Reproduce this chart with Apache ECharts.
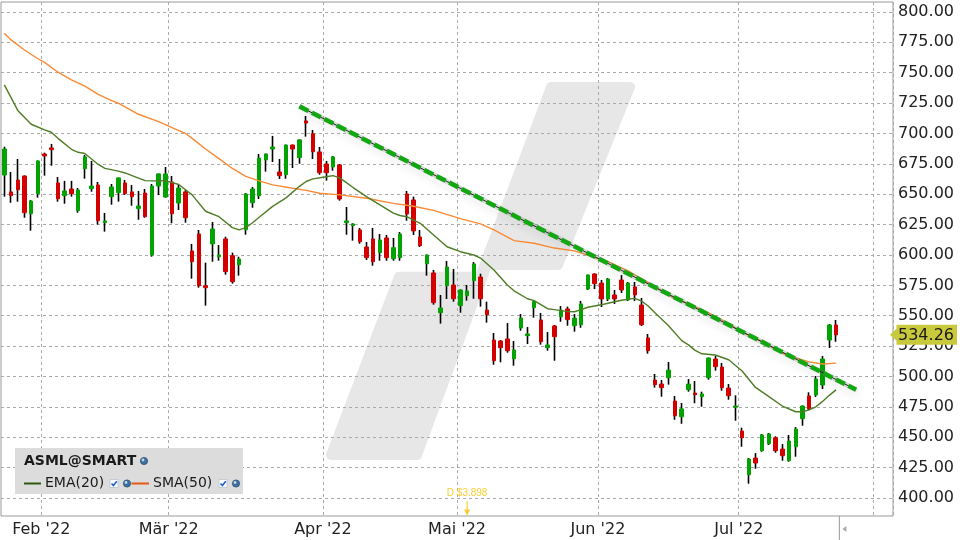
<!DOCTYPE html>
<html><head><meta charset="utf-8">
<script src="https://cdn.jsdelivr.net/npm/echarts@6/dist/echarts.min.js"></script>
<style>html,body{margin:0;padding:0;background:#fff}#c{width:960px;height:540px}</style>
</head><body><div id="c"></div>
<script>
// ---------- data ----------
const tradingDays = [
 '2022-01-24','2022-01-25','2022-01-26','2022-01-27','2022-01-28','2022-01-31',
 '2022-02-01','2022-02-02','2022-02-03','2022-02-04','2022-02-07','2022-02-08','2022-02-09','2022-02-10','2022-02-11','2022-02-14','2022-02-15','2022-02-16','2022-02-17','2022-02-18','2022-02-22','2022-02-23','2022-02-24','2022-02-25','2022-02-28',
 '2022-03-01','2022-03-02','2022-03-03','2022-03-04','2022-03-07','2022-03-08','2022-03-09','2022-03-10','2022-03-11','2022-03-14','2022-03-15','2022-03-16','2022-03-17','2022-03-18','2022-03-21','2022-03-22','2022-03-23','2022-03-24','2022-03-25','2022-03-28','2022-03-29','2022-03-30','2022-03-31',
 '2022-04-01','2022-04-04','2022-04-05','2022-04-06','2022-04-07','2022-04-08','2022-04-11','2022-04-12','2022-04-13','2022-04-14','2022-04-18','2022-04-19','2022-04-20','2022-04-21','2022-04-22','2022-04-25','2022-04-26','2022-04-27','2022-04-28','2022-04-29',
 '2022-05-02','2022-05-03','2022-05-04','2022-05-05','2022-05-06','2022-05-09','2022-05-10','2022-05-11','2022-05-12','2022-05-13','2022-05-16','2022-05-17','2022-05-18','2022-05-19','2022-05-20','2022-05-23','2022-05-24','2022-05-25','2022-05-26','2022-05-27','2022-05-31',
 '2022-06-01','2022-06-02','2022-06-03','2022-06-06','2022-06-07','2022-06-08','2022-06-09','2022-06-10','2022-06-13','2022-06-14','2022-06-15','2022-06-16','2022-06-17','2022-06-21','2022-06-22','2022-06-23','2022-06-24','2022-06-27','2022-06-28','2022-06-29','2022-06-30',
 '2022-07-01','2022-07-05','2022-07-06','2022-07-07','2022-07-08','2022-07-11','2022-07-12','2022-07-13','2022-07-14','2022-07-15','2022-07-18','2022-07-19','2022-07-20','2022-07-21','2022-07-22','2022-07-25','2022-07-26','2022-07-27','2022-07-28','2022-07-29',
 '2022-08-01','2022-08-02','2022-08-03'
];
const monthTickDays   = ['2022-02-01','2022-03-01','2022-04-01','2022-05-02','2022-06-01','2022-07-01','2022-08-01'];
const monthTickLabels = ["Feb '22","Mär '22","Apr '22","Mai '22","Jun '22","Jul '22",""];
const yTicks = [400,425,450,475,500,525,550,575,600,625,650,675,700,725,750,775,800];

const opens = [665.8,651.9,661.7,665.0,634.0,650.5,683.1,688.1,659.3,648.8,
 654.3,636.5,671.0,654.6,657.6,626.6,648.0,651.3,659.3,651.9,
 638.2,651.0,600.0,656.8,647.7,660.1,642.8,651.9,603.3,617.3,
 574.7,609.1,598.6,613.2,599.4,592.0,620.8,643.0,648.8,678.2,
 687.2,668.3,666.1,690.5,680.1,710.3,699.8,684.8,674.9,672.4,
 674.1,626.6,624.1,620.6,606.6,613.2,601.9,614.0,596.9,597.8,
 650.2,645.3,614.8,592.8,585.2,552.5,574.7,575.3,558.3,566.5,
 578.9,581.9,554.7,530.0,529.2,530.9,514.6,539.9,533.6,556.6,
 546.5,523.7,541.6,549.2,555.6,541.8,542.6,572.0,584.4,576.9,
 563.8,567.1,579.4,563.0,573.7,558.8,531.7,497.1,493.8,499.0,
 479.8,466.9,489.1,486.4,483.4,499.0,514.4,507.8,490.5,474.7,
 455.1,419.2,432.9,438.9,444.7,449.6,440.3,430.7,442.2,465.3,
 484.0,484.8,493.0,530.0,542.4];
const closes = [687.2,648.8,653.7,634.8,644.4,677.4,681.5,686.7,646.3,652.7,
 650.5,653.5,680.7,656.8,628.2,628.0,656.0,663.4,650.5,648.0,
 640.3,631.5,656.8,666.7,666.7,634.0,655.1,630.7,594.5,574.7,
 573.1,621.4,600.0,586.3,578.0,596.7,650.2,654.3,679.8,683.1,
 688.9,665.3,690.5,687.2,694.7,708.6,685.0,667.7,667.7,680.7,
 646.1,628.0,625.5,610.9,597.8,594.5,612.3,597.8,606.0,617.3,
 633.7,619.8,607.7,600.0,560.8,556.4,590.1,564.0,571.2,570.4,
 592.6,564.0,550.9,513.0,523.7,521.2,521.8,548.1,535.0,561.6,
 528.6,525.9,532.8,554.7,546.8,548.1,559.7,583.5,576.4,563.8,
 580.2,563.8,571.2,576.9,567.1,542.6,521.2,493.3,490.8,505.3,
 467.7,473.3,493.8,485.0,485.6,515.2,508.1,490.8,484.2,475.7,
 449.6,432.1,428.8,451.9,452.7,438.9,434.8,446.9,456.8,475.7,
 473.5,497.9,514.4,542.4,534.26];
const lows = [648.0,643.0,643.9,630.7,620.0,647.2,665.3,673.5,643.9,642.2,
 648.0,634.8,662.8,652.1,625.0,619.2,641.4,643.9,649.4,640.6,
 629.0,630.7,598.6,649.4,647.2,626.1,637.0,626.6,580.5,573.1,
 558.3,594.5,595.3,583.8,576.4,583.0,616.7,638.9,646.1,668.6,
 676.5,662.6,662.8,671.6,675.1,697.4,679.0,666.1,661.2,669.4,
 644.7,616.7,611.8,609.3,595.9,591.2,595.3,595.3,595.3,595.3,
 628.2,616.5,606.6,583.0,559.1,543.5,563.8,561.6,552.5,562.4,
 564.0,557.5,544.3,509.7,511.7,519.6,508.9,537.7,526.7,548.4,
 526.2,521.2,513.0,545.1,541.8,536.9,540.1,571.2,572.0,557.2,
 562.1,559.7,568.7,562.1,562.1,541.6,518.8,490.8,483.4,493.3,
 464.4,461.1,487.5,478.0,475.1,497.4,504.8,488.3,480.9,463.6,
 442.2,411.8,424.1,438.1,443.6,437.3,430.7,429.9,434.0,459.5,
 472.4,483.2,489.7,523.5,528.6];
const highs = [689.1,668.3,679.0,665.5,645.3,677.8,684.2,691.4,664.2,661.0,
 661.0,655.1,682.3,677.4,660.1,634.6,658.4,663.8,661.7,657.6,
 652.7,654.3,658.4,667.0,672.4,665.0,657.6,653.5,609.1,620.6,
 593.7,627.2,608.2,615.0,601.9,598.6,651.0,656.0,683.1,683.5,
 698.0,679.0,690.9,690.9,695.1,714.4,702.9,688.9,677.4,681.5,
 674.9,639.5,626.1,622.2,610.7,622.2,617.3,616.5,614.0,618.9,
 652.7,648.0,620.6,600.4,587.7,567.1,595.1,588.5,571.6,575.3,
 594.2,584.6,561.6,535.8,530.0,544.0,529.2,551.4,540.7,562.4,
 552.3,536.6,542.4,558.0,557.5,551.4,562.2,583.9,584.8,579.4,
 581.1,571.2,583.5,577.8,577.8,564.6,535.0,502.1,497.1,511.9,
 484.0,478.2,497.9,496.3,487.5,515.6,516.9,511.1,493.8,484.5,
 457.9,432.9,437.0,452.7,453.5,450.8,444.4,451.9,458.4,476.1,
 487.0,500.4,516.9,543.2,546.5];

// indicator lines: [trading-day index, value]
const ema20 = [[0,740],[1,729.5],[2,719],[4,707.6],[6,703],[7,701],[8,696],[10,687],[11,684.5],[12,683.5],
 [14,674.5],[15,671.3],[17,669],[18,667.5],[20,663.3],[21,661.2],[23,660.9],[24,661.2],[26,658],[28,649.5],
 [30,636],[32,631.5],[34,622.5],[35,620.6],[36,622.5],[37,626.5],[38,631],[40,640],[42,647],[44,656.5],
 [45,660.5],[46,662.6],[48,664.4],[49,665.3],[50,663.5],[51,659.5],[52,655.5],[54,648],[56,641.2],[58,634.5],
 [59,632.5],[60,631.5],[62,626.1],[64,616.5],[66,606.8],[68,602.7],[70,600],[71,597.5],[73,587.7],[75,575.3],
 [76,570.5],[78,564],[79,562.5],[81,555.8],[82,555],[84,553.4],[85,553.3],[86,555],[87,557],[89,559],
 [90,560.3],[92,562.8],[94,564.3],[95,562],[96,558],[97,552.5],[99,542],[101,529.5],[102,526],[103,521.5],
 [104,518.7],[106,517.7],[108,513.8],[110,504.5],[112,491],[114,483.4],[116,475.7],[118,471],[119,471],[120,472.5],
 [121,475.1],[122,479.5],[123,484.5],[124,489]];
const sma50 = [[0,782.5],[1,777],[3,768.7],[5,761.5],[6,758.5],[8,750.4],[10,744.2],[12,739],[14,732.2],[16,727],
 [17,724.9],[20,715.8],[23,709.7],[25,704.8],[27,700],[28,696],[30,687.2],[32,679.3],[34,671.2],[36,664.7],
 [38,661],[40,657.7],[43,654.9],[45,653.2],[47,650.8],[50,649.5],[54,646.7],[58,642.5],[61,640.1],[64,636.7],
 [68,629.9],[71,625.6],[73,620.6],[76,611.8],[79,609.7],[82,605.7],[85,603.4],[88,598],[90,594.5],[93,587],
 [96,577.3],[98,570.5],[100,564],[102,559.9],[105,552.3],[107,546.5],[110,536.5],[113,528.7],[116,519.2],[118,515.2],
 [120,512],[122,510.3],[124,511]];
const trendLine = [[44,722.3],[127,489.1]];
const dividendDay = '2022-05-03';
const dividendPrice = 391.3;
const dividendText = 'D $3.898';
const lastPrice = 534.26;
const legendTitle = 'ASML@SMART';
const legendItems = ['EMA(20)','SMA(50)'];

// ---------- chart ----------
const UP = '#00a300', DOWN = '#d40000';
const FONT = '"DejaVu Sans", Verdana, sans-serif';
const GRID = {left: 1, right: 67, top: 2, bottom: 24};
const ohlc = opens.map((o, i) => [o, closes[i], lows[i], highs[i]]);
const bodies = opens.map((o, i) => [o, closes[i], Math.min(o, closes[i]), Math.max(o, closes[i])]);
const tickSet = new Set(monthTickDays);
const labelOf = d => monthTickLabels[monthTickDays.indexOf(d)] || '';

const chart = echarts.init(document.getElementById('c'), null, {renderer: 'canvas'});
const wm = [[551,87],[630,87],[558,265],[487,265],[417,455],[331,455],[399,276.7],[480,276.7]];
chart.setOption({
  animation: false,
  backgroundColor: '#fff',
  grid: {left: GRID.left, right: GRID.right, top: GRID.top, bottom: GRID.bottom, show: true, borderColor: '#999', borderWidth: 1},
  xAxis: {
    type: 'category', data: tradingDays, boundaryGap: true,
    axisLine: {show: false}, axisTick: {show: false},
    axisLabel: {
      interval: (i, v) => labelOf(v) !== '',
      formatter: v => labelOf(v),
      color: '#222', fontSize: 16, fontFamily: FONT, margin: 6,
      padding: [0, 6.7, 0, 0]
    },
    splitLine: {show: true, interval: (i, v) => tickSet.has(v),
      lineStyle: {color: '#aaa', type: [3, 3], width: 1}}
  },
  yAxis: {
    type: 'value', position: 'right', min: 385.2, max: 808.2,
    axisLine: {show: false},
    axisTick: {show: false, customValues: yTicks},
    axisLabel: {customValues: yTicks, formatter: v => v.toFixed(2), color: '#222', fontSize: 16, fontFamily: FONT, margin: 5},
    splitLine: {show: true, lineStyle: {color: '#aaa', type: [3, 3], width: 1}}
  },
  series: [
    {type: 'candlestick', data: ohlc, barWidth: 1, silent: true,
     itemStyle: {color: '#000', color0: '#000', borderColor: '#000', borderColor0: '#000', borderWidth: 1.6}},
    {type: 'candlestick', data: bodies, barWidth: 4, silent: true,
     itemStyle: {color: UP, color0: DOWN, borderColor: UP, borderColor0: DOWN, borderWidth: 1}},
    {type: 'line', data: sma50, showSymbol: false, symbol: 'none', silent: true,
     lineStyle: {color: '#f98a35', width: 1.4}},
    {type: 'line', data: ema20, showSymbol: false, symbol: 'none', silent: true,
     lineStyle: {color: '#4e7d25', width: 1.4}},
    {type: 'line', data: trendLine, symbol: 'none', silent: true,
     lineStyle: {color: 'rgba(120,120,120,0.25)', width: 5, shadowColor: 'rgba(0,0,0,0.35)', shadowBlur: 8, shadowOffsetX: 2, shadowOffsetY: 5}},
    {type: 'line', data: trendLine, symbol: 'none', silent: true,
     lineStyle: {color: '#222', width: 1}},
    {type: 'line', data: trendLine, symbol: 'none', silent: true,
     lineStyle: {color: '#12a812', width: 4.5, type: [10, 4]}},
    {type: 'scatter', data: [[dividendDay, dividendPrice]], silent: true,
     symbol: 'path://M4,0 L6,0 L6,9 L10,9 L5,16 L0,9 L4,9 Z', symbolSize: [6, 14.5],
     itemStyle: {color: '#f6c000'},
     label: {show: true, formatter: dividendText, position: 'top', distance: 3, color: '#f6c000', fontSize: 10, fontFamily: '"Liberation Sans", Arial, sans-serif'}}
  ],
  graphic: [
    {type: 'polygon', z: -10, silent: true, shape: {points: wm}, style: {fill: '#e7e7e7', stroke: '#e7e7e7', lineWidth: 10, lineJoin: 'round'}}
  ]
});

// overlays (legend box, price tag) positioned via the chart's own scales
const yTag = chart.convertToPixel({yAxisIndex: 0}, lastPrice);
const plotRight = 960 - GRID.right;
const lastX = chart.convertToPixel({xAxisIndex: 0}, tradingDays[opens.length - 1]);
const band = (960 - GRID.left - GRID.right) / tradingDays.length;
function globe(cx, cy) {
  return [
    {type: 'circle', z: 60, shape: {cx, cy, r: 3.6}, style: {fill: '#3f6f9f', stroke: '#2c4f75', lineWidth: 0.8}},
    {type: 'circle', z: 61, shape: {cx: cx - 1, cy: cy - 1, r: 1.4}, style: {fill: '#bcd6ee'}}
  ];
}
function check(x, y) {
  return [
    {type: 'rect', z: 60, shape: {x, y, width: 8, height: 8}, style: {fill: '#fff', stroke: '#b8c4d4', lineWidth: 0.8}},
    {type: 'polyline', z: 61, shape: {points: [[x + 1.5, y + 4], [x + 3.4, y + 6], [x + 6.8, y + 1.8]]}, style: {stroke: '#1d5fc9', lineWidth: 1.6, fill: null}}
  ];
}
const g = [
  {type: 'polygon', z: -10, silent: true, shape: {points: wm}, style: {fill: '#e7e7e7', stroke: '#e7e7e7', lineWidth: 10, lineJoin: 'round'}},
  {type: 'rect', z: 50, shape: {x: 15, y: 448, width: 228, height: 46}, style: {fill: '#dcdcdc'}},
  {type: 'text', z: 55, x: 24, y: 461, style: {text: legendTitle, font: 'bold 14px ' + FONT, fill: '#1a1a1a', verticalAlign: 'middle'}},
  ...globe(144, 461),
  {type: 'line', z: 55, shape: {x1: 24, y1: 483.5, x2: 41, y2: 483.5}, style: {stroke: '#2f5a0e', lineWidth: 2}},
  {type: 'text', z: 55, x: 45, y: 483.5, style: {text: legendItems[0], font: '14px ' + FONT, fill: '#1a1a1a', verticalAlign: 'middle'}},
  ...check(110, 479.5), ...globe(127, 483.5),
  {type: 'line', z: 55, shape: {x1: 131.5, y1: 483.5, x2: 149, y2: 483.5}, style: {stroke: '#e25a12', lineWidth: 2}},
  {type: 'text', z: 55, x: 153, y: 483.5, style: {text: legendItems[1], font: '14px ' + FONT, fill: '#1a1a1a', verticalAlign: 'middle'}},
  ...check(219, 479.5), ...globe(236, 483.5),
  {type: 'polygon', z: 70, shape: {points: [[plotRight - 3, yTag], [plotRight + 3.5, yTag - 6], [plotRight + 3.5, yTag - 10], [957, yTag - 10], [957, yTag + 10], [plotRight + 3.5, yTag + 10], [plotRight + 3.5, yTag + 6]]}, style: {fill: '#c9c93c'}},
  {type: 'text', z: 71, x: plotRight + 5, y: yTag + 0.5, style: {text: lastPrice.toFixed(2), font: '16px ' + FONT, fill: '#1a1a1a', verticalAlign: 'middle'}},
  {type: 'line', z: 55, shape: {x1: lastX + band / 2, y1: 540 - GRID.bottom, x2: lastX + band / 2, y2: 540}, style: {stroke: '#999', lineWidth: 1}},
  {type: 'polygon', z: 55, shape: {points: [[lastX + band / 2 + 3, 529], [lastX + band / 2 + 7, 526], [lastX + band / 2 + 7, 532]]}, style: {fill: '#aaa'}}
];
chart.setOption({graphic: g}, {replaceMerge: ['graphic']});
</script>
</body></html>
